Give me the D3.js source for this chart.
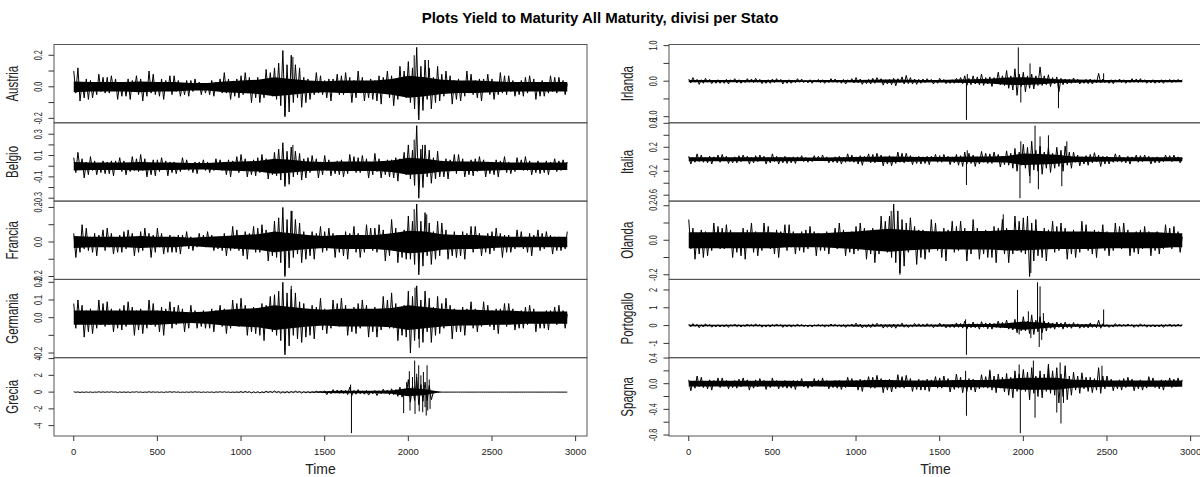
<!DOCTYPE html>
<html><head><meta charset="utf-8">
<script src="https://cdn.jsdelivr.net/npm/d3@7"></script>
<style>
body{margin:0;background:#fff}
svg{display:block}
text{font-family:"Liberation Sans",Arial,Helvetica,sans-serif}
</style>
</head><body>
<svg id="chart" width="1200" height="477"></svg>
<script>
// ---------------- DATA ----------------
// values sampled every 12.5 time units (t = 0 .. 2950); spikes = [time, value]; core = half width of solid band every 100 units
const title = "Plots Yield to Maturity All Maturity, divisi per Stato";
const countries = ["Austria","Belgio","Francia","Germania","Grecia","Irlanda","Italia","Olanda","Portogallo","Spagna"];
const xTickValues = [0,500,1000,1500,2000,2500,3000];
const xLabel = "Time";

const austria = [.1,-.04,.12,-.09,.03,-.07,.05,-.08, .04,-.07,.02,-.05,.08,-.03,.06,-.04, .06,-.04,.07,-.02,.05,-.08,.03,-.06, .03,-.06,.05,-.08,.04,-.02,.07,-.05, .05,-.09,.03,-.06,.1,-.04,.08,-.05, .03,-.06,.05,-.08,.04,-.02,.07,-.05, .07,-.03,.04,-.06,.02,-.05,.04,-.06, .04,-.03,.05,-.02,.03,-.05,.02,-.04, .02,-.05,.04,-.06,.03,-.02,.05,-.04, .09,-.04,.05,-.08,.03,-.06,.05,-.07, .07,-.05,.09,-.03,.06,-.1,.04,-.07, .06,-.1,.03,-.07,.11,-.04,.09,-.06, .12,-.08,.15,-.12,.23,-.19,.14,-.16, .2,-.1,.14,-.07,.12,-.13,.06,-.1, .05,-.08,.03,-.05,.09,-.04,.07,-.05, .04,-.07,.05,-.09,.05,-.03,.08,-.05, .07,-.05,.09,-.03,.06,-.1,.04,-.07, .1,-.04,.06,-.09,.03,-.07,.05,-.08, .04,-.09,.07,-.11,.06,-.03,.1,-.07, .07,-.12,.04,-.08,.13,-.05,.1,-.07, .16,-.1,.12,-.14,.25,-.21,.13,-.15, .17,-.08,.12,-.14,.06,-.1,.13,-.09, .08,-.06,.1,-.03,.07,-.11,.04,-.08, .05,-.09,.03,-.06,.1,-.04,.08,-.05, .04,-.07,.05,-.09,.05,-.03,.08,-.05, .05,-.08,.03,-.05,.09,-.04,.07,-.05, .07,-.03,.04,-.06,.02,-.05,.04,-.06, .06,-.04,.07,-.02,.05,-.08,.03,-.06, .04,-.06,.02,-.04,.07,-.03,.06,-.04, .06,-.02,.04,-.05,.02];
const austriaSpikes = [[1262,-.18],[1310,.19],[2035,.2],[2060,-.18],[2120,.17]];
const austriaCore = [.034,.03,.03,.03,.034,.03,.03,.024,.024,.034,.04,.045,.06,.05,.04,.035,.04,.04,.04,.05,.07,.06,.045,.04,.04,.035,.03,.03,.03,.03,.03];

const belgio = [.08,-.06,.13,-.03,.07,-.11,.04,-.08, .09,-.04,.05,-.08,.03,-.06,.05,-.07, .04,-.07,.05,-.09,.05,-.03,.08,-.05, .05,-.08,.03,-.05,.09,-.04,.07,-.05, .11,-.04,.07,-.1,.03,-.08,.06,-.09, .06,-.05,.08,-.03,.05,-.09,.04,-.06, .04,-.07,.02,-.05,.08,-.03,.06,-.04, .03,-.06,.04,-.07,.04,-.02,.06,-.04, .04,-.06,.02,-.04,.07,-.03,.06,-.04, .04,-.08,.06,-.1,.05,-.03,.09,-.06, .11,-.04,.07,-.1,.03,-.08,.06,-.09, .08,-.06,.11,-.04,.07,-.12,.05,-.08, .13,-.09,.16,-.13,.22,-.19,.14,-.17, .18,-.1,.14,-.08,.12,-.13,.07,-.11, .08,-.06,.1,-.03,.07,-.11,.04,-.08, .1,-.04,.06,-.09,.03,-.07,.05,-.08, .06,-.1,.03,-.07,.11,-.04,.09,-.06, .08,-.06,.1,-.03,.07,-.11,.04,-.08, .12,-.05,.07,-.11,.04,-.08,.06,-.1, .06,-.11,.08,-.14,.07,-.04,.13,-.08, .2,-.12,.15,-.18,.38,-.3,.16,-.2, .2,-.1,.15,-.16,.08,-.12,.14,-.1, .05,-.1,.07,-.12,.06,-.04,.11,-.07, .11,-.04,.07,-.1,.03,-.08,.06,-.09, .07,-.05,.09,-.03,.06,-.1,.04,-.07, .04,-.08,.06,-.1,.05,-.03,.09,-.06, .04,-.07,.02,-.05,.08,-.03,.06,-.04, .09,-.04,.05,-.08,.03,-.06,.05,-.07, .03,-.06,.05,-.08,.04,-.02,.07,-.05, .05,-.04,.06,-.02,.04];
const belgioSpikes = [[1262,-.17],[1310,.2],[2035,.25],[2062,-.22],[2085,.2]];
const belgioCore = [.04,.035,.035,.035,.04,.035,.035,.03,.03,.04,.045,.05,.07,.06,.045,.04,.045,.045,.045,.054,.08,.07,.05,.045,.045,.04,.035,.035,.035,.035,.035];

const francia = [.05,-.09,.03,-.06,.1,-.04,.08,-.05, .03,-.06,.05,-.08,.04,-.02,.07,-.05, .08,-.03,.05,-.07,.02,-.06,.04,-.06, .06,-.04,.07,-.02,.05,-.08,.03,-.06, .06,-.05,.08,-.03,.05,-.09,.04,-.06, .08,-.03,.05,-.07,.02,-.06,.04,-.06, .03,-.06,.04,-.07,.04,-.02,.06,-.04, .03,-.05,.02,-.03,.05,-.02,.04,-.03, .06,-.02,.04,-.05,.02,-.04,.03,-.05, .05,-.08,.03,-.05,.09,-.04,.07,-.05, .04,-.08,.06,-.1,.05,-.03,.09,-.06, .08,-.06,.1,-.03,.07,-.11,.04,-.08, .12,-.09,.14,-.12,.2,-.2,.13,-.15, .18,-.09,.13,-.07,.11,-.12,.06,-.1, .04,-.08,.06,-.1,.05,-.03,.09,-.06, .06,-.05,.08,-.03,.05,-.09,.04,-.06, .04,-.08,.06,-.1,.05,-.03,.09,-.06, .05,-.09,.03,-.06,.1,-.04,.08,-.05, .08,-.06,.1,-.03,.07,-.11,.04,-.08, .13,-.05,.08,-.12,.04,-.09,.07,-.1, .15,-.1,.12,-.13,.22,-.19,.12,-.14, .17,-.08,.11,-.13,.06,-.1,.12,-.08, .11,-.04,.07,-.1,.03,-.08,.06,-.09, .04,-.08,.06,-.1,.05,-.03,.09,-.06, .09,-.04,.05,-.08,.03,-.06,.05,-.07, .06,-.05,.08,-.03,.05,-.09,.04,-.06, .04,-.06,.02,-.04,.07,-.03,.06,-.04, .03,-.06,.05,-.08,.04,-.02,.07,-.05, .05,-.04,.06,-.02,.04,-.07,.03,-.05, .03,-.05,.02,-.04,.06];
const franciaSpikes = [[1262,-.19],[1305,.18],[2035,.19],[2062,-.17],[2110,.16]];
const franciaCore = [.035,.03,.03,.03,.035,.03,.03,.024,.03,.035,.04,.045,.06,.05,.04,.035,.04,.04,.04,.05,.065,.06,.045,.04,.04,.035,.03,.03,.03,.03,.03];

const germania = [.08,-.06,.1,-.03,.07,-.11,.04,-.08, .05,-.09,.03,-.06,.1,-.04,.08,-.05, .09,-.04,.05,-.08,.03,-.06,.05,-.07, .07,-.05,.09,-.03,.06,-.1,.04,-.07, .05,-.09,.03,-.06,.1,-.04,.08,-.05, .04,-.08,.06,-.1,.05,-.03,.09,-.06, .06,-.04,.07,-.02,.05,-.08,.03,-.06, .07,-.03,.04,-.06,.02,-.05,.04,-.06, .03,-.06,.05,-.08,.04,-.02,.07,-.05, .05,-.09,.03,-.06,.1,-.04,.08,-.05, .11,-.04,.07,-.1,.03,-.08,.06,-.09, .05,-.1,.08,-.13,.07,-.04,.12,-.08, .13,-.1,.15,-.13,.2,-.21,.14,-.16, .16,-.1,.14,-.12,.09,-.14,.08,-.11, .05,-.1,.07,-.12,.06,-.04,.11,-.07, .05,-.09,.03,-.06,.1,-.04,.08,-.05, .11,-.04,.07,-.1,.03,-.08,.06,-.09, .08,-.06,.1,-.03,.07,-.11,.04,-.08, .06,-.11,.04,-.07,.12,-.05,.1,-.06, .14,-.06,.08,-.13,.04,-.1,.07,-.11, .15,-.2,.12,-.13,.18,-.12,.1,-.14, .15,-.08,.11,-.14,.06,-.1,.12,-.09, .08,-.06,.11,-.04,.07,-.12,.05,-.08, .04,-.08,.06,-.1,.05,-.03,.09,-.06, .05,-.08,.03,-.05,.09,-.04,.07,-.05, .04,-.07,.05,-.09,.05,-.03,.08,-.05, .08,-.03,.05,-.07,.02,-.06,.04,-.06, .06,-.04,.07,-.02,.05,-.08,.03,-.06, .03,-.06,.04,-.07,.04,-.02,.06,-.04, .07,-.03,.04,-.06,.02];
const germaniaSpikes = [[1262,-.19],[1300,.18],[2040,.17],[2065,-.17]];
const germaniaCore = [.04,.04,.04,.04,.04,.04,.035,.03,.035,.045,.05,.054,.07,.06,.05,.045,.05,.05,.05,.054,.07,.06,.05,.045,.045,.04,.04,.035,.035,.035,.035];

const grecia = [.04,-.02,.02,-.04,.01,-.03,.02,-.03, .02,-.04,.01,-.02,.04,-.02,.03,-.02, .03,-.02,.04,-.01,.02,-.04,.02,-.03, .02,-.03,.02,-.04,.02,-.01,.04,-.02, .02,-.04,.01,-.02,.04,-.02,.03,-.02, .02,-.03,.02,-.04,.02,-.01,.04,-.02, .04,-.02,.02,-.04,.01,-.03,.02,-.03, .03,-.02,.04,-.01,.02,-.04,.02,-.03, .02,-.03,.02,-.04,.02,-.01,.04,-.02, .04,-.02,.02,-.04,.01,-.03,.02,-.03, .07,-.05,.09,-.03,.06,-.1,.04,-.07, .05,-.09,.03,-.06,.1,-.04,.08,-.05, .14,-.06,.08,-.13,.04,-.1,.07,-.11, .08,-.06,.11,-.04,.07,-.12,.05,-.08, .05,-.09,.03,-.06,.1,-.04,.08,-.05, .15,-.3,.1,-.2,.3,-.12,.25,-.15, .25,-.15,.2,-.3,.6,-.4,.2,-.25, .3,-.2,.15,-.25,.2,-.35,.12,-.2, .2,-.4,.15,-.2,.35,-.15,.25,-.3, .4,-.3,.3,-.5,.6,-.6,.3,-.4, 1.5,-1.2,.8,-1.0,1.8,-1.5,.9,-1.1, 1.2,-1.0,.8,-.9,0,0,0,0, 0,0,0,0,0,0,0,0, 0,0,0,0,0,0,0,0, 0,0,0,0,0,0,0,0, 0,0,0,0,0,0,0,0, 0,0,0,0,0,0,0,0, 0,0,0,0,0,0,0,0, 0,0,0,0,0,0,0,0, 0,0,0,0,0];
const greciaSpikes = [[1655,.9],[1660,-4.89],[1972,-2.5],[1990,1.2],[2006,2.5],[2010,-2.2],[2025,1.8],[2038,3.76],[2040,-2.6],[2050,2.2],[2062,3.2],[2065,-2.3],[2075,2.0],[2086,-2.4],[2090,2.4],[2100,-1.8],[2107,-2.8],[2112,3.2],[2116,-2.2],[2125,1.5],[2130,-2.0]];
const greciaCore = [0,0,0,0,0,0,0,0,0,0,.02,.02,.03,.03,.03,.1,.15,.15,.15,.2,.5,.35,0,0,0,0,0,0,0,0,0];

const irlanda = [.06,-.05,.1,-.03,.05,-.09,.04,-.06, .08,-.03,.05,-.07,.02,-.06,.04,-.06, .03,-.06,.05,-.08,.04,-.02,.07,-.05, .04,-.06,.02,-.04,.07,-.03,.06,-.04, .08,-.03,.05,-.07,.02,-.06,.04,-.06, .06,-.04,.07,-.02,.05,-.08,.03,-.06, .04,-.06,.02,-.04,.07,-.03,.06,-.04, .02,-.05,.04,-.06,.03,-.02,.05,-.04, .04,-.06,.02,-.04,.07,-.03,.06,-.04, .03,-.06,.05,-.08,.04,-.02,.07,-.05, .1,-.04,.06,-.09,.03,-.07,.05,-.08, .08,-.06,.1,-.03,.07,-.11,.04,-.08, .05,-.1,.08,-.13,.07,-.04,.12,-.08, .16,-.07,.1,-.08,.06,-.09,.05,-.06, .06,-.04,.07,-.02,.05,-.08,.03,-.06, .08,-.03,.05,-.07,.02,-.06,.04,-.06, .08,-.05,.1,-.07,.15,-.12,.08,-.1, .15,-.08,.12,-.1,.2,-.12,.1,-.08, .12,-.15,.1,-.08,.25,-.1,.15,-.12, .3,-.2,.15,-.25,.35,-.4,.2,-.15, .25,-.3,.15,-.2,.2,-.22,.15,-.12, .4,-.12,.15,-.1,.18,-.15,.1,-.08, .12,-.3,.08,-.1,.06,-.08,.05,-.06, .09,-.04,.05,-.08,.03,-.06,.05,-.07, .06,-.08,.04,-.05,.22,-.05,.06,-.04, .03,-.06,.04,-.07,.04,-.02,.06,-.04, .04,-.06,.02,-.04,.07,-.03,.06,-.04, .07,-.03,.04,-.06,.02,-.05,.04,-.06, .02,-.05,.04,-.06,.03,-.02,.05,-.04, .04,-.03,.05,-.02,.04];
const irlandaSpikes = [[1660,-1.09],[1665,.2],[1970,.95],[1985,-.6],[2040,.5],[2210,-.76],[2480,.22]];
const irlandaCore = [.03,.03,.03,.03,.03,.03,.03,.026,.03,.03,.036,.04,.045,.04,.036,.036,.045,.054,.066,.1,.11,.09,.054,.045,.04,.036,.03,.03,.03,.03,.03];

const italia = [.05,-.08,.03,-.05,.09,-.04,.07,-.05, .03,-.06,.05,-.08,.04,-.02,.07,-.05, .08,-.03,.05,-.07,.02,-.06,.04,-.06, .06,-.04,.07,-.02,.05,-.08,.03,-.06, .06,-.04,.07,-.02,.05,-.08,.03,-.06, .09,-.04,.05,-.08,.03,-.06,.05,-.07, .03,-.06,.04,-.07,.04,-.02,.06,-.04, .03,-.05,.02,-.04,.06,-.02,.05,-.03, .07,-.03,.04,-.06,.02,-.05,.04,-.06, .05,-.08,.03,-.05,.09,-.04,.07,-.05, .04,-.08,.06,-.1,.05,-.03,.09,-.06, .08,-.06,.1,-.03,.07,-.11,.04,-.08, .06,-.11,.04,-.07,.12,-.05,.1,-.06, .1,-.04,.06,-.09,.03,-.07,.05,-.08, .04,-.07,.05,-.09,.05,-.03,.08,-.05, .06,-.05,.08,-.03,.05,-.09,.04,-.06, .08,-.1,.06,-.12,.12,-.08,.1,-.07, .07,-.12,.04,-.08,.13,-.05,.1,-.07, .09,-.07,.12,-.04,.08,-.13,.05,-.09, .14,-.1,.1,-.15,.18,-.2,.12,-.1, .25,-.15,.2,-.28,.3,-.18,.15,-.2, .22,-.25,.12,-.15,.2,-.22,.1,-.15, .2,-.12,.15,-.2,.22,-.1,.12,-.15, .12,-.05,.07,-.11,.04,-.08,.06,-.1, .08,-.06,.11,-.04,.07,-.12,.05,-.08, .05,-.08,.03,-.05,.09,-.04,.07,-.05, .03,-.06,.05,-.08,.04,-.02,.07,-.05, .06,-.04,.07,-.02,.05,-.08,.03,-.06, .04,-.06,.02,-.04,.07,-.03,.06,-.04, .07,-.03,.04,-.06,.02];
const italiaSpikes = [[1660,-.43],[1665,.15],[1980,-.65],[1985,.3],[2040,-.4],[2070,.56],[2090,-.5],[2100,.38],[2150,.4],[2230,-.45],[2260,.3]];
const italiaCore = [.033,.033,.033,.033,.033,.033,.033,.028,.028,.033,.038,.041,.048,.041,.038,.038,.041,.048,.048,.056,.094,.088,.075,.048,.041,.038,.033,.033,.033,.033,.033];

const olanda = [.12,-.05,.07,-.11,.04,-.08,.06,-.1, .05,-.09,.03,-.06,.1,-.04,.08,-.05, .07,-.05,.09,-.03,.06,-.1,.04,-.07, .04,-.09,.07,-.11,.06,-.03,.1,-.07, .05,-.09,.03,-.06,.1,-.04,.08,-.05, .04,-.08,.06,-.1,.05,-.03,.09,-.06, .09,-.04,.05,-.08,.03,-.06,.05,-.07, .06,-.05,.08,-.03,.05,-.09,.04,-.06, .03,-.06,.05,-.08,.04,-.02,.07,-.05, .1,-.04,.06,-.09,.03,-.07,.05,-.08, .08,-.06,.1,-.03,.07,-.11,.04,-.08, .07,-.13,.04,-.08,.14,-.06,.11,-.07, .14,-.1,.21,-.13,.17,-.19,.12,-.15, .1,-.07,.13,-.04,.08,-.14,.06,-.1, .06,-.11,.04,-.07,.12,-.05,.1,-.06, .05,-.1,.07,-.12,.06,-.04,.11,-.07, .08,-.06,.11,-.04,.07,-.12,.05,-.08, .12,-.05,.07,-.11,.04,-.08,.06,-.1, .05,-.1,.08,-.13,.07,-.04,.12,-.08, .07,-.13,.04,-.08,.14,-.06,.11,-.07, .13,-.08,.14,-.21,.1,-.12,.12,-.09, .05,-.1,.07,-.12,.06,-.04,.11,-.07, .08,-.06,.1,-.03,.07,-.11,.04,-.08, .06,-.1,.03,-.07,.11,-.04,.09,-.06, .04,-.08,.06,-.1,.05,-.03,.09,-.06, .05,-.09,.03,-.06,.1,-.04,.08,-.05, .1,-.04,.06,-.09,.03,-.07,.05,-.08, .06,-.05,.08,-.03,.05,-.09,.04,-.06, .05,-.08,.03,-.05,.09,-.04,.07,-.05, .08,-.03,.05,-.07,.02];
const olandaSpikes = [[1210,.17],[1262,-.2],[1880,.15],[2045,-.19]];
const olandaCore = [.047,.047,.047,.047,.047,.047,.04,.04,.04,.047,.05,.06,.067,.06,.054,.05,.054,.054,.054,.06,.06,.054,.05,.05,.05,.047,.047,.047,.047,.04,.04];

const portogallo = [.08,-.06,.11,-.04,.07,-.12,.05,-.08, .1,-.04,.06,-.09,.03,-.07,.05,-.08, .04,-.08,.06,-.1,.05,-.03,.09,-.06, .05,-.08,.03,-.05,.09,-.04,.07,-.05, .1,-.04,.06,-.09,.03,-.07,.05,-.08, .07,-.05,.09,-.03,.06,-.1,.04,-.07, .05,-.08,.03,-.05,.09,-.04,.07,-.05, .03,-.06,.04,-.07,.04,-.02,.06,-.04, .05,-.08,.03,-.05,.09,-.04,.07,-.05, .04,-.08,.06,-.1,.05,-.03,.09,-.06, .14,-.06,.08,-.13,.04,-.1,.07,-.11, .1,-.07,.13,-.04,.08,-.14,.06,-.1, .06,-.12,.09,-.15,.08,-.05,.14,-.09, .06,-.11,.04,-.07,.12,-.05,.1,-.06, .08,-.06,.11,-.04,.07,-.12,.05,-.08, .14,-.06,.08,-.13,.04,-.1,.07,-.11, .15,-.1,.12,-.14,.25,-.2,.1,-.12, .2,-.12,.1,-.2,.22,-.1,.15,-.18, .15,-.2,.12,-.1,.25,-.14,.18,-.12, .3,-.2,.15,-.25,.35,-.4,.2,-.3, .5,-.3,.25,-.45,.6,-.5,.3,-.35, .5,-.4,.25,-.3,.2,-.15,.15,-.2, .2,-.1,.15,-.2,.2,-.12,.1,-.15, .17,-.08,.1,-.15,.06,-.12,.09,-.13, .15,-.1,.08,-.12,.3,-.15,.1,-.06, .06,-.1,.03,-.07,.11,-.04,.09,-.06, .07,-.05,.09,-.03,.06,-.1,.04,-.07, .1,-.04,.06,-.09,.03,-.07,.05,-.08, .04,-.08,.06,-.1,.05,-.03,.09,-.06, .06,-.05,.08,-.03,.05];
const portogalloSpikes = [[1655,.35],[1660,-1.64],[1965,2.0],[1975,-.5],[2030,.8],[2045,-.7],[2085,2.43],[2095,-1.2],[2100,2.2],[2110,-.8],[2120,.7],[2480,.9]];
const portogalloCore = [.04,.04,.04,.04,.04,.04,.04,.035,.04,.04,.052,.052,.058,.052,.052,.058,.07,.086,.086,.13,.23,.17,.086,.07,.07,.052,.04,.04,.04,.04,.04];

const spagna = [.06,-.11,.04,-.07,.12,-.05,.1,-.06, .04,-.08,.06,-.1,.05,-.03,.09,-.06, .09,-.04,.05,-.08,.03,-.06,.05,-.07, .07,-.05,.09,-.03,.06,-.1,.04,-.07, .06,-.05,.08,-.03,.05,-.09,.04,-.06, .09,-.04,.05,-.08,.03,-.06,.05,-.07, .04,-.07,.05,-.09,.05,-.03,.08,-.05, .04,-.07,.02,-.05,.08,-.03,.06,-.04, .09,-.04,.05,-.08,.03,-.06,.05,-.07, .05,-.09,.03,-.06,.1,-.04,.08,-.05, .05,-.1,.07,-.12,.06,-.04,.11,-.07, .1,-.07,.13,-.04,.08,-.14,.06,-.1, .07,-.13,.04,-.08,.14,-.06,.11,-.07, .13,-.05,.08,-.12,.04,-.09,.07,-.1, .05,-.1,.07,-.12,.06,-.04,.11,-.07, .09,-.07,.12,-.04,.08,-.13,.05,-.09, .15,-.07,.1,-.14,.06,-.12,.08,-.1, .07,-.13,.04,-.08,.14,-.06,.11,-.07, .2,-.1,.12,-.14,.15,-.07,.1,-.13, .16,-.18,.1,-.22,.2,-.12,.15,-.1, .22,-.12,.18,-.25,.25,-.15,.12,-.2, .2,-.22,.15,-.12,.3,-.15,.2,-.18, .25,-.3,.15,-.2,.28,-.25,.12,-.18, .18,-.1,.12,-.15,.17,-.08,.1,-.12, .1,-.14,.08,-.1,.25,-.15,.12,-.08, .12,-.05,.07,-.11,.04,-.08,.06,-.1, .08,-.06,.1,-.03,.07,-.11,.04,-.08, .06,-.1,.03,-.07,.11,-.04,.09,-.06, .04,-.08,.06,-.1,.05,-.03,.09,-.06, .07,-.05,.09,-.03,.06];
const spagnaSpikes = [[1655,.2],[1660,-.5],[1800,.22],[1975,.3],[1982,-.77],[2060,.36],[2070,-.53],[2150,.3],[2200,-.45],[2220,.33],[2225,-.62],[2240,-.3],[2470,.28]];
const spagnaCore = [.044,.044,.044,.044,.044,.044,.044,.038,.044,.048,.05,.056,.056,.05,.05,.05,.056,.056,.056,.075,.094,.094,.094,.062,.056,.048,.048,.048,.048,.048,.048];

// y tick values and their printed labels ("" = tick without label)
const yTicksAustria = [-0.2,-0.1,0,0.1,0.2],            yLabAustria = ["-0.2","","0.0","","0.2"];
const yTicksBelgio = [-0.3,-0.2,-0.1,0,0.1,0.2,0.3],    yLabBelgio = ["-0.3","","-0.1","","0.1","","0.3"];
const yTicksFrancia = [-0.2,-0.1,0,0.1,0.2],            yLabFrancia = ["-0.2","","0.0","","0.2"];
const yTicksGermania = [-0.2,-0.1,0,0.1,0.2],           yLabGermania = ["-0.2","","0.0","0.1","0.2"];
const yTicksGrecia = [-4,-2,0,2,4],                     yLabGrecia = ["-4","-2","0","2","4"];
const yTicksIrlanda = [-1,-0.5,0,0.5,1],                yLabIrlanda = ["-1.0","","0.0","","1.0"];
const yTicksItalia = [-0.6,-0.4,-0.2,0,0.2,0.4,0.6],    yLabItalia = ["-0.6","","-0.2","","0.2","","0.6"];
const yTicksOlanda = [-0.2,-0.1,0,0.1,0.2],             yLabOlanda = ["-0.2","","0.0","","0.2"];
const yTicksPortogallo = [-1,0,1,2],                    yLabPortogallo = ["-1","0","1","2"];
const yTicksSpagna = [-0.8,-0.6,-0.4,-0.2,0,0.2,0.4],   yLabSpagna = ["-0.8","","-0.4","","0.0","","0.4"];

const STEP = 12.5, CORE_STEP = 100, T_END = 2950;

// ---------------- DRAWING ----------------
const series = [
  {name:countries[0], v:austria, s:austriaSpikes, c:austriaCore, tk:yTicksAustria, tl:yLabAustria},
  {name:countries[1], v:belgio, s:belgioSpikes, c:belgioCore, tk:yTicksBelgio, tl:yLabBelgio},
  {name:countries[2], v:francia, s:franciaSpikes, c:franciaCore, tk:yTicksFrancia, tl:yLabFrancia},
  {name:countries[3], v:germania, s:germaniaSpikes, c:germaniaCore, tk:yTicksGermania, tl:yLabGermania},
  {name:countries[4], v:grecia, s:greciaSpikes, c:greciaCore, tk:yTicksGrecia, tl:yLabGrecia},
  {name:countries[5], v:irlanda, s:irlandaSpikes, c:irlandaCore, tk:yTicksIrlanda, tl:yLabIrlanda},
  {name:countries[6], v:italia, s:italiaSpikes, c:italiaCore, tk:yTicksItalia, tl:yLabItalia},
  {name:countries[7], v:olanda, s:olandaSpikes, c:olandaCore, tk:yTicksOlanda, tl:yLabOlanda},
  {name:countries[8], v:portogallo, s:portogalloSpikes, c:portogalloCore, tk:yTicksPortogallo, tl:yLabPortogallo},
  {name:countries[9], v:spagna, s:spagnaSpikes, c:spagnaCore, tk:yTicksSpagna, tl:yLabSpagna}
];

const svg = d3.select("#chart");
const TOP = 44.5, BOTTOM = 436, PH = (BOTTOM - TOP) / 5;
const columns = [{x0:54, x1:587, idx:[0,1,2,3,4]}, {x0:669, x1:1202, idx:[5,6,7,8,9]}];
const frameCol = "#555";

svg.append("text").attr("x", 600).attr("y", 23).attr("text-anchor","middle")
  .attr("font-size", 15).attr("font-weight","bold").attr("fill","#000").text(title);

const xpad = 0.04 * T_END;

columns.forEach(col => {
  const x = d3.scaleLinear().domain([-xpad, T_END + xpad]).range([col.x0, col.x1]);
  col.idx.forEach((si, k) => {
    const d = series[si];
    const py0 = TOP + k * PH, py1 = py0 + PH;
    const all = d.v.concat(d.s.map(p => p[1]));
    const mn = d3.min(all), mx = d3.max(all), yp = 0.04 * (mx - mn);
    const y = d3.scaleLinear().domain([mn - yp, mx + yp]).range([py1, py0]);
    const g = svg.append("g");

    // solid dense band
    const area = d3.area()
      .x((w, i) => x(Math.min(i * CORE_STEP, T_END)))
      .y0(w => y(-w)).y1(w => y(w));
    g.append("path").datum(d.c).attr("d", area).attr("fill", "#000");

    // series line
    const line = d3.line().x((v, i) => x(Math.min(i * STEP, T_END))).y(v => y(v));
    g.append("path").datum(d.v).attr("d", line).attr("fill","none")
      .attr("stroke","#000").attr("stroke-width", 1);

    // spikes
    g.selectAll("line.sp").data(d.s).enter().append("line")
      .attr("x1", p => x(p[0])).attr("x2", p => x(p[0]))
      .attr("y1", y(0)).attr("y2", p => y(p[1]))
      .attr("stroke","#000").attr("stroke-width", 1);

    // frame
    svg.append("rect").attr("x", col.x0).attr("y", py0).attr("width", col.x1 - col.x0)
      .attr("height", PH).attr("fill","none").attr("stroke", frameCol).attr("stroke-width", 1);

    // y axis ticks + labels
    const dom = y.domain();
    d.tk.forEach((t, j) => {
      if (t < dom[0] || t > dom[1]) return;
      const yy = y(t);
      svg.append("line").attr("x1", col.x0 - 5.5).attr("x2", col.x0).attr("y1", yy).attr("y2", yy)
        .attr("stroke","#333").attr("stroke-width", 1);
      if (d.tl[j]) {
        svg.append("text")
          .attr("transform", `translate(${col.x0 - 12.5},${yy}) scale(1,0.72) rotate(-90)`)
          .attr("text-anchor","middle").attr("font-size", 10).attr("fill","#222").text(d.tl[j]);
      }
    });

    // panel label
    svg.append("text")
      .attr("transform", `translate(${col.x0 - 36.5},${(py0 + py1) / 2}) scale(1,0.72) rotate(-90)`)
      .attr("text-anchor","middle").attr("font-size", 16).attr("fill","#222").text(d.name);
  });

  // x axis
  xTickValues.forEach(t => {
    svg.append("line").attr("x1", x(t)).attr("x2", x(t)).attr("y1", BOTTOM).attr("y2", BOTTOM + 5)
      .attr("stroke","#333");
    svg.append("text").attr("x", x(t)).attr("y", 454.5).attr("text-anchor","middle")
      .attr("font-size", 9.5).attr("fill","#222").text(t);
  });
  svg.append("text").attr("x", (col.x0 + col.x1) / 2).attr("y", 474).attr("text-anchor","middle")
    .attr("font-size", 14).attr("fill","#222").text(xLabel);
});
</script>
</body></html>
